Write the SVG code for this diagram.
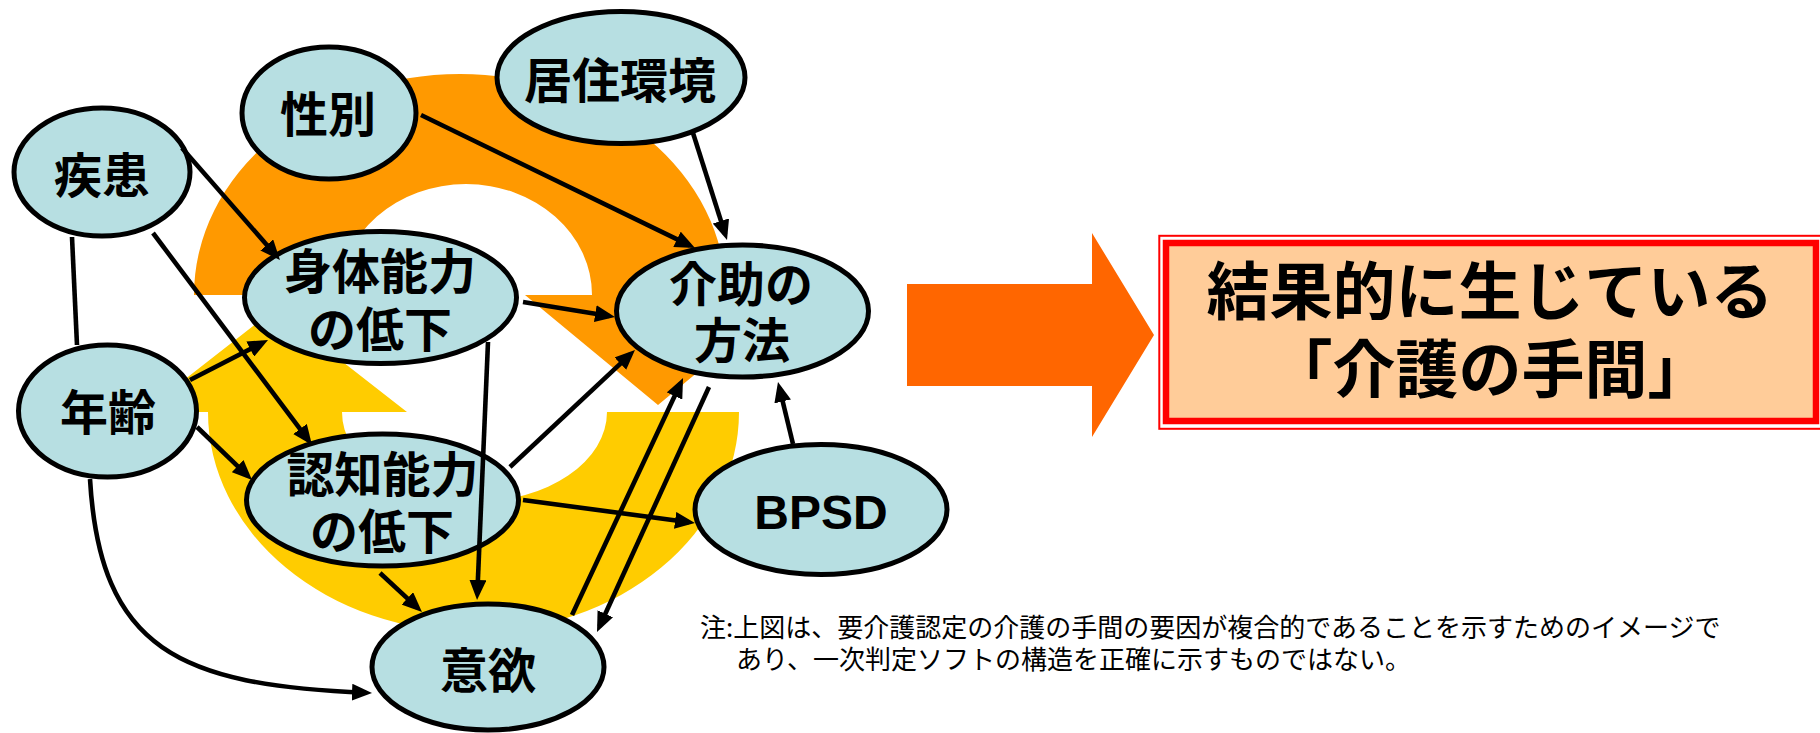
<svg xmlns="http://www.w3.org/2000/svg" width="1820" height="733" viewBox="0 0 1820 733">
<style>
.node ellipse { fill:#B7DFE2; stroke:#000; stroke-width:5; }
.lbl { font-family:"Noto Sans CJK JP","Noto Sans CJK SC",sans-serif; font-weight:700; font-size:48px; text-anchor:middle; fill:#000; }
.lat { font-family:"Liberation Sans",Arial,sans-serif; font-weight:700; font-size:48px; text-anchor:middle; fill:#000; }
.conn line, .conn path { stroke:#000; stroke-width:4.6; fill:none; }
.arr { marker-end:url(#ah); }
.big { font-family:"Noto Sans CJK JP","Noto Sans CJK SC",sans-serif; font-weight:700; font-size:63px; text-anchor:middle; fill:#000; }
.note { font-family:"Noto Sans CJK JP","Noto Sans CJK SC",sans-serif; font-weight:400; font-size:26px; fill:#000; }
</style>
<defs>
<marker id="ah" markerUnits="userSpaceOnUse" markerWidth="20" markerHeight="17" refX="14" refY="8.5" orient="auto">
<path d="M0,0 L20,8.5 L0,17 Z" fill="#000"/>
</marker>
</defs>
<rect x="0" y="0" width="1820" height="733" fill="#fff"/>
<g id="background">
<path d="M194,295 A266,221 0 0 1 726,295 L791,295 L658,405 L525,295 L592,295 A126,111 0 0 0 340,295 Z" fill="#FF9900"/>
<path d="M739,412 A265.5,220 0 0 1 208,412 L143,412 L275,309 L407,412 L342,412 A132.5,90 0 0 0 607,412 Z" fill="#FFCC00"/>
</g>
<g id="n-shikkan" class="node"><ellipse cx="102" cy="172" rx="88" ry="64"/><text class="lbl" x="102" y="193">疾患</text></g>
<g id="n-seibetsu" class="node"><ellipse cx="329" cy="113" rx="87" ry="66"/><text class="lbl" x="328" y="132">性別</text></g>
<g id="n-kyoju" class="node"><ellipse cx="621" cy="77.5" rx="124" ry="66"/><text class="lbl" x="620" y="98">居住環境</text></g>
<g id="n-shintai" class="node"><ellipse cx="380.5" cy="297.5" rx="136" ry="66"/><text class="lbl" x="380" y="289">身体能力</text><text class="lbl" x="380" y="347">の低下</text></g>
<g id="n-kaijo" class="node"><ellipse cx="742.5" cy="311" rx="126" ry="66"/><text class="lbl" x="741" y="302">介助の</text><text class="lbl" x="742" y="358">方法</text></g>
<g id="n-nenrei" class="node"><ellipse cx="107.5" cy="411" rx="89" ry="66"/><text class="lbl" x="108" y="430">年齢</text></g>
<g id="n-ninchi" class="node"><ellipse cx="382.5" cy="500" rx="136" ry="66"/><text class="lbl" x="382.5" y="491.5">認知能力</text><text class="lbl" x="382" y="549">の低下</text></g>
<g id="n-bpsd" class="node"><ellipse cx="821" cy="509.5" rx="126" ry="65"/><text class="lat" x="821" y="529">BPSD</text></g>
<g id="n-iyoku" class="node"><ellipse cx="488" cy="667" rx="116" ry="63"/><text class="lbl" x="488" y="688">意欲</text></g>
<g id="connectors" class="conn">
<line x1="72" y1="237" x2="77" y2="345"/>
<line class="arr" x1="182" y1="148" x2="276" y2="255.5"/>
<line class="arr" x1="153" y1="233" x2="308.4" y2="440.2"/>
<line class="arr" x1="421" y1="115" x2="689.6" y2="245.4"/>
<line class="arr" x1="693" y1="133" x2="725.2" y2="234.3"/>
<line class="arr" x1="523" y1="302" x2="609.1" y2="316"/>
<line class="arr" x1="488" y1="342" x2="477.3" y2="594"/>
<line class="arr" x1="190" y1="380" x2="262.7" y2="342.7"/>
<line class="arr" x1="197" y1="427" x2="247.7" y2="475.8"/>
<path class="arr" d="M90,479 C100,650 180,685 366,692.8"/>
<line class="arr" x1="510" y1="467" x2="630.6" y2="354.1"/>
<line class="arr" x1="523" y1="500" x2="689" y2="522.2"/>
<line class="arr" x1="380" y1="573" x2="417.6" y2="607.9"/>
<line class="arr" x1="572" y1="615" x2="680.5" y2="383.4"/>
<line class="arr" x1="709" y1="387" x2="599.5" y2="626.5"/>
<line class="arr" x1="793" y1="444" x2="779.4" y2="387.8"/>
</g>
<g id="big-arrow">
<path d="M907,284 L1092,284 L1092,233 L1154,335 L1092,437 L1092,386 L907,386 Z" fill="#FF6600"/>
</g>
<g id="result-box">
<rect x="1159.3" y="235.8" width="664" height="193" fill="none" stroke="#FF0000" stroke-width="2"/>
<rect x="1166" y="243" width="650" height="178" fill="#FFCC99" stroke="#FF0000" stroke-width="6.5"/>
<text class="big" x="1490" y="314">結果的に生じている</text>
<text class="big" x="1490" y="392">「介護の手間」</text>
</g>
<g id="note">
<text class="note" x="700" y="637">注:上図は、要介護認定の介護の手間の要因が複合的であることを示すためのイメージで</text>
<text class="note" x="736" y="669">あり、一次判定ソフトの構造を正確に示すものではない。</text>
</g>
</svg>
